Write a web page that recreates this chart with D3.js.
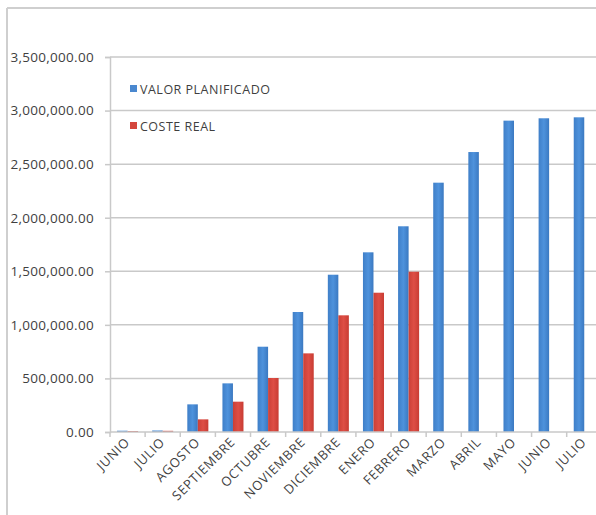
<!DOCTYPE html>
<html><head><meta charset="utf-8">
<script src="https://cdn.jsdelivr.net/npm/d3@7"></script>
<style>body{margin:0;background:#fff;} svg{display:block;}</style>
</head><body>
<svg id="c" width="596" height="515"></svg>
<script>
const categories = ["JUNIO","JULIO","AGOSTO","SEPTIEMBRE","OCTUBRE","NOVIEMBRE","DICIEMBRE","ENERO","FEBRERO","MARZO","ABRIL","MAYO","JUNIO","JULIO"];
const valorPlanificado = [12000,14000,258000,454000,796000,1120000,1468000,1677000,1920000,2327000,2613000,2906000,2928000,2937000];
const costeReal = [9000,11000,118000,283000,504000,734000,1089000,1300000,1496000,null,null,null,null,null];
const seriesNames = ["VALOR PLANIFICADO","COSTE REAL"];
const yTicks = [0,500000,1000000,1500000,2000000,2500000,3000000,3500000];

(function(){
const svg = d3.select("#c");
const font = "'Open Sans', sans-serif";
const colors = {"VALOR PLANIFICADO":"url(#gBlue)","COSTE REAL":"url(#gRed)"};
const legendColors = {"VALOR PLANIFICADO":"#4a88cf","COSTE REAL":"#d4463d"};

const defs = svg.append("defs");
function grad(id, c1, c2, c3){
  const g = defs.append("linearGradient").attr("id",id).attr("x1","0").attr("x2","1").attr("y1","0").attr("y2","0");
  g.append("stop").attr("offset","0").attr("stop-color",c1);
  g.append("stop").attr("offset","0.5").attr("stop-color",c2);
  g.append("stop").attr("offset","1").attr("stop-color",c3);
}
grad("gBlue","#3f7fc8","#4e92dc","#3b79c1");
grad("gRed","#cb3f36","#de4e45","#c83c33");

// frame
svg.append("line").attr("x1",7).attr("x2",596).attr("y1",8).attr("y2",8).attr("stroke","#cfcfcf").attr("stroke-width",2);
svg.append("line").attr("x1",7).attr("x2",7).attr("y1",8).attr("y2",515).attr("stroke","#cfcfcf").attr("stroke-width",2);

const mLeft = 110, mTop = 57, mBottom = 432;
const x = d3.scaleBand().domain(d3.range(categories.length)).range([mLeft, mLeft + 14*35.13]).paddingInner(0).paddingOuter(0);
const xs = d3.scaleBand().domain(seriesNames).range([0, x.bandwidth()]).paddingInner(0).paddingOuter(0.67);
const y = d3.scaleLinear().domain([0,3500000]).range([mBottom, mTop]);

// gridlines
svg.append("g").selectAll("line").data(yTicks.slice(1)).join("line")
  .attr("x1",mLeft).attr("x2",596).attr("y1",d=>y(d)).attr("y2",d=>y(d))
  .attr("stroke","#c9c9c9").attr("stroke-width",1.5);

// y axis
const ya = svg.append("g").attr("transform",`translate(${mLeft},0)`)
  .call(d3.axisLeft(y).tickValues(yTicks).tickFormat(d3.format(",.2f")).tickSize(5).tickPadding(10));
ya.select(".domain").attr("stroke","#c9c9c9").attr("stroke-width",1.5);
ya.selectAll(".tick line").attr("stroke","#c9c9c9").attr("stroke-width",1.5);
ya.selectAll(".tick text").attr("font-family",font).attr("font-size",13.5).attr("letter-spacing",0.3).attr("fill","#3f3f3f").attr("dx",-1);

// bars
const rows = categories.map((c,i)=>({i, vals:[{s:seriesNames[0],v:valorPlanificado[i]},{s:seriesNames[1],v:costeReal[i]}]}));
const gb = svg.append("g").selectAll("g").data(rows).join("g").attr("transform",d=>`translate(${x(d.i)},0)`);
gb.selectAll("rect").data(d=>d.vals.filter(v=>v.v!=null)).join("rect")
  .attr("x",d=>xs(d.s)).attr("width",xs.bandwidth())
  .attr("y",d=>y(d.v)).attr("height",d=>y(0)-y(d.v))
  .attr("fill",d=>colors[d.s]);

// x axis
svg.append("line").attr("x1",mLeft).attr("x2",596).attr("y1",mBottom).attr("y2",mBottom).attr("stroke","#c9c9c9").attr("stroke-width",1.5);
svg.append("g").selectAll("line").data(d3.range(categories.length+1)).join("line")
  .attr("x1",d=>mLeft + d*x.step()).attr("x2",d=>mLeft + d*x.step())
  .attr("y1",mBottom).attr("y2",mBottom+5).attr("stroke","#c9c9c9").attr("stroke-width",1.5);
svg.append("g").selectAll("text").data(rows).join("text")
  .attr("transform",d=>`translate(${x(d.i)+x.bandwidth()/2+3},${mBottom+11}) rotate(-45)`)
  .attr("text-anchor","end").attr("font-family",font).attr("font-size",13).attr("letter-spacing",0.7).attr("fill","#3f3f3f")
  .text(d=>categories[d.i]);

// legend
const lg = svg.append("g").selectAll("g").data(seriesNames).join("g")
  .attr("transform",(d,i)=>`translate(130,${89 + i*37})`);
lg.append("rect").attr("x",0).attr("y",-4).attr("width",7).attr("height",7).attr("fill",d=>legendColors[d]);
lg.append("text").attr("x",10).attr("y",4.5).attr("font-family",font).attr("font-size",12.5).attr("letter-spacing",0.5).attr("fill","#3f3f3f").text(d=>d);
})();
</script>
</body></html>
